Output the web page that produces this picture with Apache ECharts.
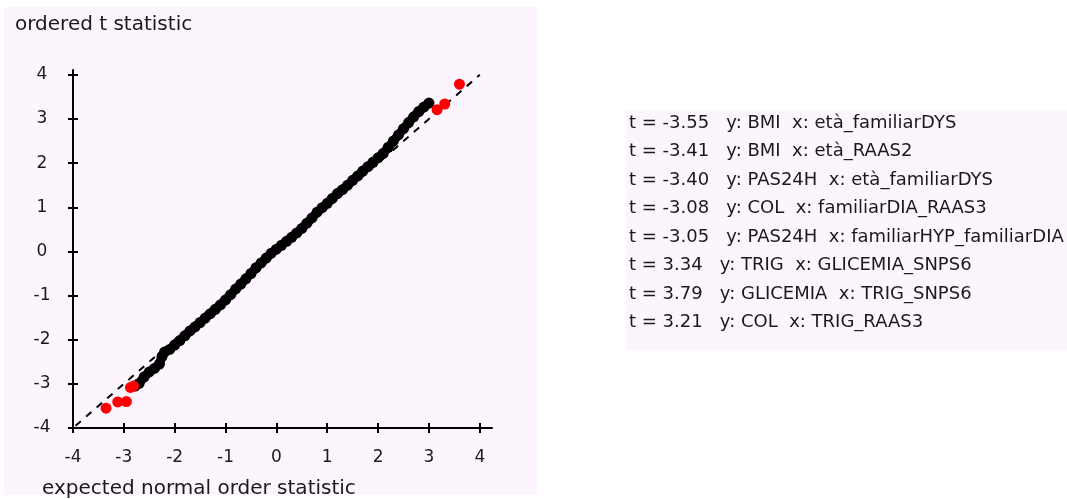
<!DOCTYPE html>
<html>
<head>
<meta charset="utf-8">
<script src="https://cdn.jsdelivr.net/npm/echarts@6/dist/echarts.min.js"></script>
<style>
  html, body { margin: 0; padding: 0; background: #ffffff; }
  #chart { width: 1067px; height: 499px; }
</style>
</head>
<body>
<div id="chart"></div>
<script>
// Tick positions shared by both axes
const tickValues = [-4, -3, -2, -1, 0, 1, 2, 3, 4];

// Bulk of the ordered t statistics (expected normal order statistic, observed t)
const bandExpected = [
  -2.78, -2.70, -2.60, -2.50, -2.40, -2.30, -2.25, -2.20, -2.10, -2.00,
  -1.90, -1.80, -1.70, -1.60, -1.50, -1.40, -1.30, -1.20, -1.10, -1.00,
  -0.90, -0.80, -0.70, -0.60, -0.50, -0.40, -0.30, -0.20, -0.10, 0.00,
  0.10, 0.20, 0.30, 0.40, 0.50, 0.60, 0.70, 0.80, 0.90, 1.00,
  1.10, 1.20, 1.30, 1.40, 1.50, 1.60, 1.70, 1.80, 1.90, 2.00,
  2.10, 2.20, 2.30, 2.40, 2.50, 2.60, 2.70, 2.80, 2.90, 3.00
];
const bandT = [
  -3.05, -2.99, -2.84, -2.73, -2.65, -2.55, -2.38, -2.28, -2.22, -2.12,
  -2.02, -1.91, -1.80, -1.71, -1.61, -1.51, -1.41, -1.31, -1.21, -1.10,
  -0.98, -0.85, -0.74, -0.62, -0.50, -0.37, -0.26, -0.15, -0.04, 0.05,
  0.14, 0.23, 0.32, 0.42, 0.52, 0.64, 0.76, 0.89, 0.99, 1.09,
  1.20, 1.31, 1.40, 1.50, 1.61, 1.71, 1.82, 1.92, 2.02, 2.12,
  2.22, 2.36, 2.50, 2.64, 2.78, 2.92, 3.05, 3.17, 3.27, 3.36
];

// Highlighted extreme statistics
const flaggedExpected = [-3.35, -3.12, -2.95, -2.87, -2.81, 3.31, 3.60, 3.16];
const flaggedT = [-3.55, -3.41, -3.40, -3.08, -3.05, 3.34, 3.79, 3.21];
const flaggedYVar = ['BMI', 'BMI', 'PAS24H', 'COL', 'PAS24H', 'TRIG', 'GLICEMIA', 'COL'];
const flaggedXVar = ['età_familiarDYS', 'età_RAAS2', 'età_familiarDYS', 'familiarDIA_RAAS3',
  'familiarHYP_familiarDIA', 'GLICEMIA_SNPS6', 'TRIG_SNPS6', 'TRIG_RAAS3'];

// Identity reference line end points
const referenceLine = [-3.95, 4.0];

const FONT = 'DejaVu Sans';
const INK = '#1a1a1a';
const PANEL = '#fdf5fd';

const bandData = bandExpected.map((x, i) => [x, bandT[i]]);
const flaggedData = flaggedExpected.map((x, i) => [x, flaggedT[i]]);
const refData = referenceLine.map(v => [v, v]);
const listing = flaggedT.map((t, i) =>
  't = ' + t.toFixed(2) + '   y: ' + flaggedYVar[i] + '  x: ' + flaggedXVar[i]).join('\n');

const tickStyle = { color: '#000', width: 2 };

function xAxisCfg(inside) {
  return {
    type: 'value', min: -4, max: 4.24, position: 'bottom',
    axisLine: { show: !inside, onZero: false, lineStyle: { color: '#000', width: 2 } },
    axisTick: { show: true, inside: inside, length: 5, customValues: tickValues, lineStyle: tickStyle },
    axisLabel: {
      show: !inside, customValues: tickValues, margin: 21,
      fontFamily: FONT, fontSize: 17, color: INK
    },
    splitLine: { show: false }
  };
}
function yAxisCfg(inside) {
  return {
    type: 'value', min: -4, max: 4.11, position: 'left',
    axisLine: { show: !inside, onZero: false, lineStyle: { color: '#000', width: 2 } },
    axisTick: { show: true, inside: inside, length: 5, customValues: tickValues, lineStyle: tickStyle },
    axisLabel: {
      show: !inside, customValues: tickValues, margin: 31, align: 'center',
      fontFamily: FONT, fontSize: 17, color: INK
    },
    splitLine: { show: false }
  };
}

const chart = echarts.init(document.getElementById('chart'), null, { renderer: 'canvas' });
chart.setOption({
  animation: false,
  backgroundColor: '#ffffff',
  title: [
    { text: 'ordered t statistic', left: 15, top: 15, padding: 0,
      textStyle: { fontFamily: FONT, fontSize: 20, fontWeight: 'normal', color: INK } },
    { text: 'expected normal order statistic', left: 42, top: 479, padding: 0,
      textStyle: { fontFamily: FONT, fontSize: 20, fontWeight: 'normal', color: INK } },
    { text: listing, left: 629, top: 109, padding: 0,
      textStyle: { fontFamily: FONT, fontSize: 18, fontWeight: 'normal', color: INK, lineHeight: 28.5 } }
  ],
  graphic: [
    { type: 'rect', z: -10, shape: { x: 4, y: 7, width: 533, height: 488 }, style: { fill: PANEL } },
    { type: 'rect', z: -10, shape: { x: 626, y: 110, width: 441, height: 240 }, style: { fill: PANEL } }
  ],
  grid: { left: 73, right: 575, top: 70, bottom: 71, containLabel: false, outerBoundsMode: 'none' },
  xAxis: [xAxisCfg(false), xAxisCfg(true)],
  yAxis: [yAxisCfg(false), yAxisCfg(true)],
  series: [
    {
      type: 'line', data: refData, symbol: 'none', silent: true, z: 1,
      lineStyle: { color: '#000', width: 2, type: [7, 7] }
    },
    {
      // solid core joining the dense run of statistics
      type: 'line', data: bandData, symbol: 'none', silent: true, z: 2,
      lineStyle: { color: '#000', width: 9, cap: 'round', join: 'round' }
    },
    {
      type: 'scatter', data: bandData, symbol: 'circle', symbolSize: 11, z: 2,
      itemStyle: { color: '#000', opacity: 1 }
    },
    {
      type: 'scatter', data: flaggedData, symbol: 'circle', symbolSize: 11, z: 3,
      itemStyle: { color: '#ff0000', opacity: 1 }
    }
  ]
});
</script>
</body>
</html>
